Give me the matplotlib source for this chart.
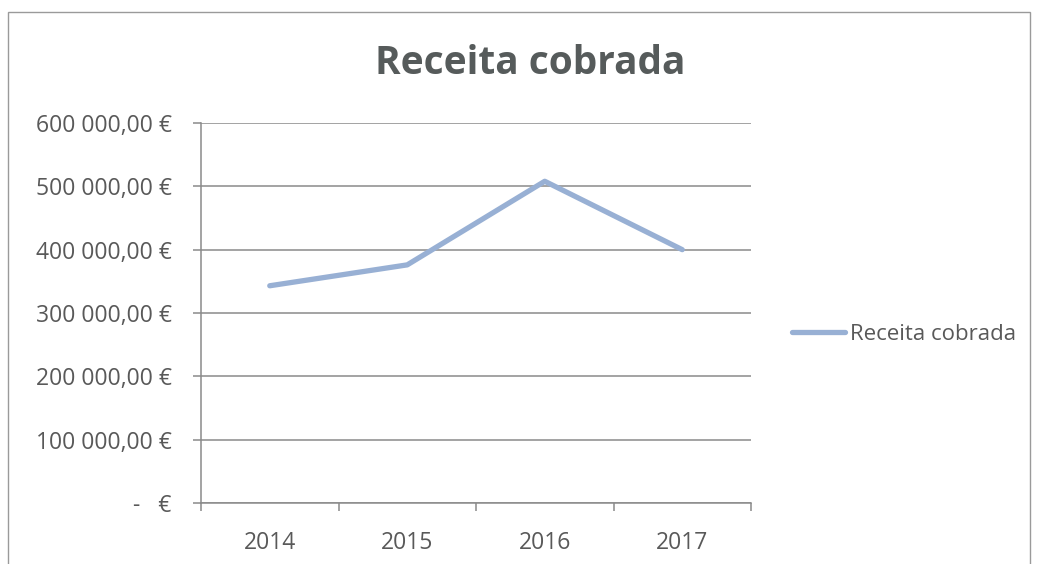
import matplotlib.pyplot as plt
from matplotlib.patches import Rectangle
from matplotlib.ticker import FixedLocator, FuncFormatter

# Data
years = ['2014', '2015', '2016', '2017']
receita = [343000, 376000, 508000, 400000]
y_ticks = [0, 100000, 200000, 300000, 400000, 500000, 600000]

FONT = 'Open Sans'
TXT = '#595959'
GRID = '#8a8a8a'
LINE = '#98b0d4'


def euro(v, pos=None):
    if v == 0:
        return '-   €'
    s = f'{v:,.2f}'.replace(',', ' ').replace('.', ',')
    return s + ' €'


fig = plt.figure(figsize=(10.38, 5.64), dpi=100)
W, H = 1038, 564

# outer chart frame
fig.patches.append(Rectangle((8 / W, -0.05), (1030 - 8) / W, 1.05 - 12 / H,
                             transform=fig.transFigure, fill=False,
                             edgecolor='#9a9a9a', linewidth=1.0))

ax = fig.add_axes([201 / W, 1 - 503 / H, (751 - 201) / W, (503 - 123) / H])

x = list(range(len(years)))
ax.plot(x, receita, color=LINE, linewidth=3.8, solid_capstyle='round',
        solid_joinstyle='round', label='Receita cobrada', zorder=3)

ax.set_xlim(-0.5, len(years) - 0.5)
ax.set_ylim(0, 600000)

ax.yaxis.set_major_locator(FixedLocator(y_ticks))
ax.yaxis.set_major_formatter(FuncFormatter(euro))
ax.set_xticks(x)
ax.set_xticklabels(years)
ax.set_xticks([i - 0.5 for i in range(len(years) + 1)], minor=True)

ax.grid(True, axis='y', color=GRID, linewidth=1.1)
ax.set_axisbelow(True)
for side in ['top', 'right']:
    ax.spines[side].set_visible(False)
for side in ['left', 'bottom']:
    ax.spines[side].set_color(GRID)
    ax.spines[side].set_linewidth(1.1)

ax.tick_params(axis='y', length=6, color=GRID, width=1.1, pad=15,
               labelsize=16.5, labelcolor=TXT)
ax.tick_params(axis='x', which='major', length=0, pad=20,
               labelsize=16.5, labelcolor=TXT)
ax.tick_params(axis='x', which='minor', length=6, color=GRID, width=1.1)
for lab in ax.get_xticklabels() + ax.get_yticklabels():
    lab.set_fontfamily(FONT)

fig.text(530 / W, 1 - 64 / H, 'Receita cobrada', ha='center', va='center',
         fontsize=28, fontweight='bold', color='#565b5b', family=FONT)

leg = fig.legend(loc='center left', bbox_to_anchor=(772 / W, 1 - 334 / H),
                 frameon=False, handlelength=2.4, handletextpad=0.2,
                 prop={'family': FONT, 'size': 16})
for t in leg.get_texts():
    t.set_color(TXT)

fig.savefig('out.png', dpi=100)
